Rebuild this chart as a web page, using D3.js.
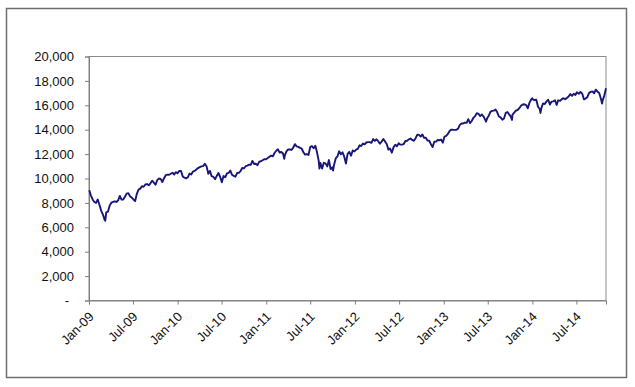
<!DOCTYPE html>
<html><head><meta charset="utf-8">
<script src="https://cdn.jsdelivr.net/npm/d3@7"></script>
<style>
html,body{margin:0;padding:0;background:#fff;}
svg{display:block;font-family:"Liberation Sans",Arial,sans-serif;}
</style></head>
<body>
<svg id="chart" width="635" height="387"></svg>
<script>
// Weekly closes (plus a few intra-week extremes)
const y2009 = [["01-02",9034],["01-09",8599],["01-16",8281],["01-23",8077],["01-30",8001],["02-06",8280],["02-13",7850],["02-20",7366],["02-27",7063],["03-06",6627],["03-09",6547],["03-13",7224],["03-20",7278],["03-27",7776],["04-03",8018],["04-10",8083],["04-17",8131],["04-24",8076],["05-01",8212],["05-08",8575],["05-15",8268],["05-22",8277],["05-29",8500],["06-05",8764],["06-12",8799],["06-19",8539],["06-26",8438],["07-03",8280],["07-10",8146],["07-17",8743],["07-24",9093],["07-31",9172],["08-07",9370],["08-14",9321],["08-21",9506],["08-28",9544],["09-04",9441],["09-11",9605],["09-18",9820],["09-25",9665],["10-02",9488],["10-09",9865],["10-16",9996],["10-23",9972],["10-30",9713],["11-06",10023],["11-13",10271],["11-20",10318],["11-27",10310],["12-04",10389],["12-11",10471],["12-18",10329],["12-24",10520],["12-31",10428]];
const y2010 = [["01-08",10618],["01-15",10610],["01-22",10173],["01-29",10067],["02-05",10012],["02-12",10099],["02-19",10402],["02-26",10325],["03-05",10567],["03-12",10625],["03-19",10742],["03-26",10851],["04-02",10927],["04-09",10998],["04-16",11019],["04-23",11204],["04-30",11009],["05-06",10520],["05-07",10380],["05-14",10620],["05-21",10193],["05-28",10137],["06-04",9932],["06-11",10212],["06-18",10450],["06-25",10144],["07-02",9686],["07-09",10198],["07-16",10098],["07-23",10425],["07-30",10466],["08-06",10654],["08-13",10303],["08-20",10214],["08-27",10151],["09-03",10448],["09-10",10463],["09-17",10608],["09-24",10861],["10-01",10830],["10-08",11006],["10-15",11063],["10-22",11133],["10-29",11118],["11-05",11445],["11-12",11193],["11-19",11204],["11-26",11092],["12-03",11382],["12-10",11410],["12-17",11492],["12-23",11573],["12-31",11578]];
const y2011 = [["01-07",11675],["01-14",11787],["01-21",11872],["01-28",11824],["02-04",12092],["02-11",12273],["02-18",12391],["02-25",12130],["03-04",12170],["03-11",12044],["03-16",11613],["03-18",11859],["03-25",12221],["04-01",12377],["04-08",12380],["04-15",12342],["04-21",12505],["04-29",12811],["05-06",12638],["05-13",12596],["05-20",12512],["05-27",12441],["06-03",12151],["06-10",11952],["06-17",12004],["06-24",11934],["07-01",12582],["07-08",12657],["07-15",12480],["07-22",12681],["07-29",12143],["08-05",11444],["08-08",10810],["08-12",11269],["08-19",10817],["08-26",11285],["09-02",11240],["09-09",10992],["09-16",11509],["09-23",10771],["09-30",10913],["10-03",10655],["10-07",11103],["10-14",11644],["10-21",11809],["10-28",12231],["11-04",11983],["11-11",12153],["11-18",11796],["11-25",11231],["12-02",12019],["12-09",12184],["12-16",11866],["12-23",12294],["12-30",12218]];
const y2012 = [["01-06",12360],["01-13",12422],["01-20",12720],["01-27",12660],["02-03",12862],["02-10",12801],["02-17",12950],["02-24",12983],["03-02",12978],["03-09",12922],["03-16",13233],["03-23",13081],["03-30",13212],["04-06",13060],["04-13",12850],["04-20",13029],["04-27",13228],["05-04",13038],["05-11",12821],["05-18",12369],["05-25",12455],["06-01",12119],["06-08",12554],["06-15",12767],["06-22",12641],["06-29",12880],["07-06",12773],["07-13",12777],["07-20",12822],["07-27",13076],["08-03",13096],["08-10",13207],["08-17",13275],["08-24",13158],["08-31",13090],["09-07",13306],["09-14",13593],["09-21",13579],["09-28",13437],["10-05",13610],["10-12",13329],["10-19",13343],["10-26",13107],["11-02",13093],["11-09",12815],["11-16",12588],["11-23",13010],["11-30",13026],["12-07",13155],["12-14",13135],["12-21",13191],["12-28",12938]];
const y2013 = [["01-04",13435],["01-11",13488],["01-18",13650],["01-25",13896],["02-01",14010],["02-08",13993],["02-15",13982],["02-22",14001],["03-01",14090],["03-08",14397],["03-15",14515],["03-22",14512],["03-28",14579],["04-05",14565],["04-12",14865],["04-19",14547],["04-26",14713],["05-03",14974],["05-10",15118],["05-17",15354],["05-24",15303],["05-31",15116],["06-07",15248],["06-14",15070],["06-21",14800],["06-24",14660],["06-28",14910],["07-05",15136],["07-12",15464],["07-19",15544],["07-26",15559],["08-02",15659],["08-09",15425],["08-16",15082],["08-23",15010],["08-30",14810],["09-06",14923],["09-13",15376],["09-20",15452],["09-27",15258],["10-04",15073],["10-09",14802],["10-11",15237],["10-18",15400],["10-25",15570],["11-01",15616],["11-08",15762],["11-15",15962],["11-22",16065],["11-29",16086],["12-06",16020],["12-13",15755],["12-20",16221],["12-27",16479],["12-31",16577]];
const y2014 = [["01-03",16470],["01-10",16437],["01-17",16459],["01-24",15879],["01-31",15699],["02-03",15373],["02-07",15794],["02-14",16154],["02-21",16104],["02-28",16322],["03-07",16453],["03-14",16066],["03-21",16303],["03-28",16323],["04-04",16413],["04-11",16027],["04-17",16409],["04-25",16361],["05-02",16513],["05-09",16584],["05-16",16492],["05-23",16606],["05-30",16717],["06-06",16924],["06-13",16776],["06-20",16947],["06-27",16851],["07-03",17068],["07-11",16944],["07-18",17100],["07-25",16961],["08-01",16493],["08-08",16553],["08-15",16663],["08-22",17001],["08-29",17098],["09-05",17138],["09-12",16988],["09-19",17280],["09-26",17113],["10-03",17010],["10-10",16544],["10-15",16142],["10-17",16380],["10-24",16805],["10-31",17391]];
const yearData = {2009:y2009,2010:y2010,2011:y2011,2012:y2012,2013:y2013,2014:y2014};
const yTicks = [0,2000,4000,6000,8000,10000,12000,14000,16000,18000,20000];
const xStart = "2009-01-01", xEnd = "2014-10-31";

const parse = d3.timeParse("%Y-%m-%d");
const data = [];
Object.keys(yearData).forEach(yr => yearData[yr].forEach(([md,v]) => data.push({date: parse(yr+"-"+md), value: v})));

const svg = d3.select("#chart");
const L = 89, R = 606, T = 56.5, B = 300.5;

// outer frame
svg.append("rect").attr("x",6.5).attr("y",8.5).attr("width",620).attr("height",369)
  .attr("fill","none").attr("stroke","#6f6f6f").attr("stroke-width",1.5);

const x = d3.scaleTime().domain([parse(xStart), parse(xEnd)]).range([L, R]);
const y = d3.scaleLinear().domain([0, 20000]).range([B, T]);

// plot area border
svg.append("rect").attr("x",L).attr("y",T).attr("width",R-L).attr("height",B-T)
  .attr("fill","none").attr("stroke","#8c8c8c").attr("stroke-width",1);

const fmt = d3.format(",");
const yAxis = d3.axisLeft(y).tickValues(yTicks).tickSize(4).tickPadding(11)
  .tickFormat(d => d === 0 ? "-" : fmt(d));
const gy = svg.append("g").attr("transform",`translate(${L},0)`).call(yAxis);
gy.select(".domain").attr("stroke","#7f7f7f");
gy.selectAll(".tick line").attr("stroke","#7f7f7f");
gy.selectAll(".tick text").attr("font-size",13).attr("fill","#111")
  .attr("font-family","'Liberation Sans',Arial,sans-serif");
gy.selectAll(".tick text").filter(d => d === 0).attr("x",-20);

const xAxis = d3.axisBottom(x).ticks(d3.timeMonth.every(6)).tickSize(4)
  .tickFormat(d3.timeFormat("%b-%y"));
const gx = svg.append("g").attr("transform",`translate(0,${B})`).call(xAxis);
gx.select(".domain").attr("stroke","#7f7f7f");
gx.selectAll(".tick line").attr("stroke","#7f7f7f");
gx.selectAll(".tick text").attr("font-size",13).attr("fill","#111")
  .attr("font-family","'Liberation Sans',Arial,sans-serif")
  .attr("text-anchor","end").attr("y",0).attr("dy",0)
  .attr("transform","translate(5,17) rotate(-45)");

const line = d3.line().x(d => x(d.date)).y(d => y(d.value));
svg.append("path").datum(data).attr("d",line).attr("fill","none")
  .attr("stroke","#17177a").attr("stroke-width",1.9).attr("stroke-linejoin","round");
</script>
</body></html>
